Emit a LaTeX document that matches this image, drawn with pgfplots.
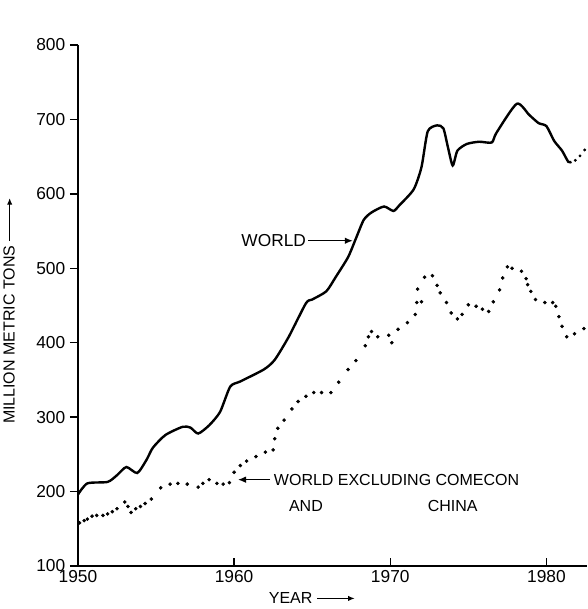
\documentclass[border=0pt]{standalone}
\usepackage{fontspec}
\setmainfont{Liberation Sans}
\usepackage{pgfplots}
\pgfplotsset{compat=1.18}
\usetikzlibrary{arrows.meta}

\pgfplotstableread{
x y
1950.0 196
1950.6 211
1951.9 213
1952.5 222
1953.1 233
1953.8 225
1954.4 243
1954.8 259
1955.6 276
1956.7 287
1957.2 286
1957.7 278
1958.4 289
1959.1 307
1959.75 341
1960.4 348
1961.9 364
1962.6 377
1963.5 408
1964.6 453
1965.0 458
1965.9 469
1966.5 488
1967.3 515
1967.8 540
1968.3 565
1968.8 575
1969.6 583
1970.2 577
1970.6 585
1971.5 606
1972.0 636
1972.4 684
1973.0 692
1973.4 688
1973.7 662
1974.0 638
1974.3 658
1974.9 667
1975.7 670
1976.5 669
1976.8 682
1978.1 721
1978.9 706
1979.5 695
1980.0 691
1980.5 671
1981.0 658
1981.4 643
1981.6 643
}\world

\pgfplotstableread{
x y
1981.85 645
1982.15 651
1982.45 659
}\worldproj

\pgfplotstableread{
x y
1950.1 158
1950.4 161
1950.6 163
1950.9 167
1951.2 168
1951.6 168
1951.9 170
1952.2 173
1952.5 177
1953.0 186
1953.2 180
1953.4 172
1953.7 177
1954.0 180
1954.3 184
1954.7 190
1955.3 205
1955.9 210
1956.4 211
1957.0 210
1957.7 206
1958.0 211
1958.4 216
1958.9 211
1959.3 210
1959.7 212
1960.0 226
1960.4 235
1960.8 241
1961.4 247
1962.0 253
1962.5 256
1962.6 271
1962.8 285
1963.2 296
1963.7 311
1964.1 321
1964.6 328
1965.1 333
1965.6 333
1966.2 333
1966.7 347
1967.3 364
1967.8 376
1968.4 396
1968.6 408
1968.8 415
1969.2 408
1969.9 410
1970.1 400
1970.5 418
1971.1 427
1971.6 438
1971.7 454
1972.0 455
1971.75 472
1972.2 488
1972.7 490
1973.0 477
1973.2 467
1973.6 454
1973.9 440
1974.3 432
1974.6 438
1975.0 451
1975.5 449
1975.9 445
1976.3 442
1976.6 455
1977.0 471
1977.2 487
1977.5 502
1977.8 500
1978.4 496
1978.7 486
1978.8 478
1979.0 469
1979.3 458
1979.9 454
1980.4 454
1980.6 449
1980.8 435
1981.0 422
1981.3 408
1981.8 412
1982.4 419
}\excl

\begin{document}
\begin{tikzpicture}
\begin{axis}[
  scale only axis,
  width=382pt, height=391pt,
  xmin=1950, xmax=1982.6,
  ymin=100, ymax=800,
  axis x line*=bottom,
  axis y line*=left,
  axis line style={line width=1.6pt, black},
  xtick={1950,1960,1970,1980},
  ytick={100,200,...,800},
  x tick label style={/pgf/number format/1000 sep={}},
  /pgf/number format/assume math mode=true,
  tick label style={font=\fontsize{13}{15}\selectfont, black},
  ytick style={line width=1pt, black},
  xtick style={line width=1pt, black},
  major tick length=6pt,
  xtick align=inside,
  ytick align=outside,
  clip=true,
  xlabel={YEAR \tikz[baseline=-0.6ex]\draw[-{Latex[length=5pt,width=4pt]},line width=0.9pt](0,0)--(28pt,0);},
  xlabel style={at={(axis description cs:0.46,0)}, anchor=center, yshift=-24pt, font=\fontsize{12}{14}\selectfont},
  ylabel={MILLION METRIC TONS \tikz[baseline=-0.6ex]\draw[-{Latex[length=5pt,width=4pt]},line width=0.9pt](0,0)--(32pt,0);},
  ylabel style={at={(axis description cs:-0.135,0.49)}, anchor=center, font=\fontsize{12}{14}\selectfont},
]
\addplot[black, line width=1.8pt, smooth, tension=0.4] table[x=x,y=y]{\world};
\addplot[black, only marks, mark=*, mark size=0.9pt] table[x=x,y=y]{\worldproj};
\addplot[black, only marks, mark=*, mark size=1.15pt] table[x=x,y=y]{\excl};

\node[anchor=east, font=\fontsize{13}{15}\selectfont, inner sep=1pt] at (axis cs:1964.7,537) {WORLD};
\draw[-{Latex[length=6pt,width=5pt]}, line width=1pt] (axis cs:1964.75,537) -- (axis cs:1967.6,537);

\node[anchor=west, font=\fontsize{12}{15}\selectfont, inner sep=1pt] at (axis cs:1962.45,216) {WORLD EXCLUDING COMECON};
\draw[-{Latex[length=6pt,width=5pt]}, line width=1pt] (axis cs:1962.3,216) -- (axis cs:1960.25,216);
\node[font=\fontsize{12}{15}\selectfont] at (axis cs:1964.6,181) {AND};
\node[font=\fontsize{12}{15}\selectfont] at (axis cs:1974.0,181) {CHINA};
\end{axis}
\pgfresetboundingbox
\useasboundingbox ([xshift=-58.5pt,yshift=-32.25pt]current axis.south west) rectangle ([yshift=33.75pt]current axis.north east);
\end{tikzpicture}
\end{document}
